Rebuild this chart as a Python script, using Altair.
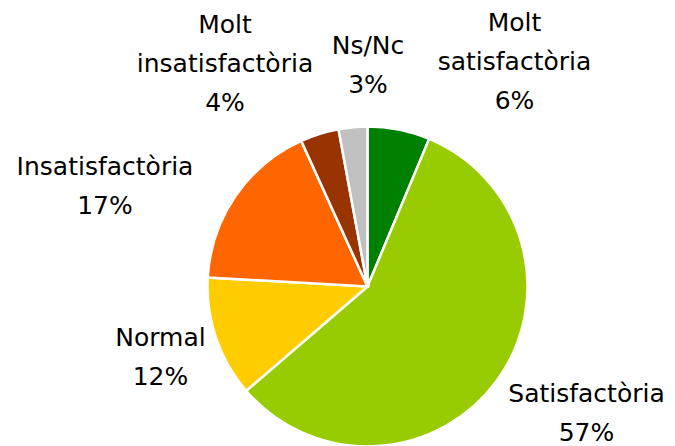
import altair as alt
import pandas as pd

# --- data ---
categories = ["Molt satisfactòria", "Satisfactòria", "Normal",
              "Insatisfactòria", "Molt insatisfactòria", "Ns/Nc"]
values = [6.3, 57.4, 12.2, 17.3, 3.9, 2.9]
colors = ["#008000", "#99CC00", "#FFCC00", "#FF6600", "#993300", "#C0C0C0"]
label_names = ["Molt\nsatisfactòria", "Satisfactòria", "Normal",
               "Insatisfactòria", "Molt\ninsatisfactòria", "Ns/Nc"]

# --- layout (pixel anchors of label first baselines, within the chart) ---
center = (359.5, 278.5)
radius = 160
label_anchor = {
    "Molt satisfactòria": (506.5, 23),
    "Satisfactòria": (578.5, 394),
    "Normal": (152.5, 338),
    "Insatisfactòria": (97, 167),
    "Molt insatisfactòria": (217, 25),
    "Ns/Nc": (360, 46),
}

df = pd.DataFrame({
    "category": categories,
    "value": values,
    "order": list(range(len(categories))),
    "label": [f"{n}\n{round(v)}%" for n, v in zip(label_names, values)],
})
df["lx"] = [label_anchor[c][0] for c in categories]
df["ly"] = [label_anchor[c][1] for c in categories]

font = "Century Gothic, DejaVu Sans, sans-serif"

pie = alt.Chart(df).mark_arc(
    outerRadius=radius, stroke="white", strokeWidth=2.5
).encode(
    theta=alt.Theta("value:Q", stack=True),
    order=alt.Order("order:Q"),
    color=alt.Color("category:N", scale=alt.Scale(domain=categories, range=colors), legend=None),
    x=alt.value(center[0]),
    y=alt.value(center[1]),
)

labels = alt.Chart(df).mark_text(
    font=font, fontSize=25, align="center", baseline="alphabetic",
    lineBreak="\n", lineHeight=39, color="#000000"
).encode(
    x=alt.X("lx:Q", scale=None),
    y=alt.Y("ly:Q", scale=None),
    text="label:N",
)

chart = alt.layer(pie, labels).properties(
    width=659, height=438, padding=0,
    autosize=alt.AutoSizeParams(type="none"),
).configure_view(stroke=None)

chart.save("out.html", embed_options={"renderer": "svg", "actions": False})
